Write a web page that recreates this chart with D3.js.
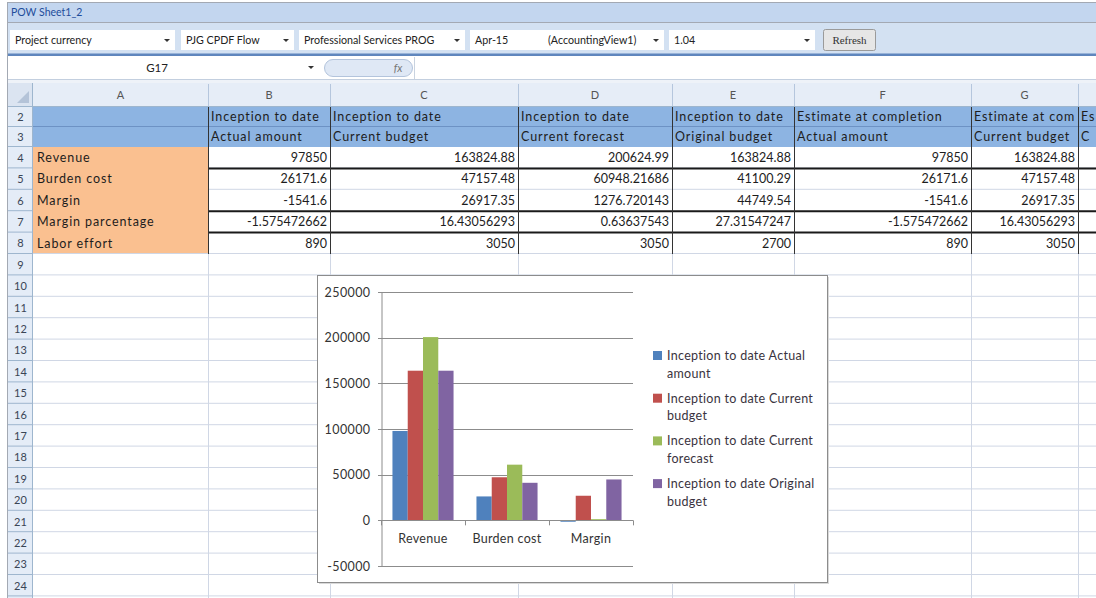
<!DOCTYPE html>
<html lang="en">
<head>
<meta charset="UTF-8">
<title>POW Sheet1_2</title>
<style>
  body { margin: 0; overflow: hidden; background: #fff; }
  svg { display: block; font-family: Lato, "Open Sans", sans-serif; }
</style>
</head>
<body>
<script src="https://cdnjs.cloudflare.com/ajax/libs/d3/7.8.2/d3.min.js"></script>
<script>
// ---- data ----
const sheetTitle = "POW Sheet1_2";
const toolbarLabels = ["Project currency", "PJG CPDF Flow", "Professional Services PROG", "Apr-15", "1.04"];
const periodView = "(AccountingView1)";
const cellRef = "G17";
const colLetters = ["A", "B", "C", "D", "E", "F", "G", "H"];
const headerTop = ["", "Inception to date", "Inception to date", "Inception to date", "Inception to date",
  "Estimate at completion", "Estimate at completion", "Estimate at completion"];
const headerSub = ["", "Actual amount", "Current budget", "Current forecast", "Original budget",
  "Actual amount", "Current budget", "Current forecast"];
const rowLabels = ["Revenue", "Burden cost", "Margin", "Margin parcentage", "Labor effort"];
const revenue = [97850, 163824.88, 200624.99, 163824.88, 97850, 163824.88];
const burdenCost = [26171.6, 47157.48, 60948.21686, 41100.29, 26171.6, 47157.48];
const margin = [-1541.6, 26917.35, 1276.720143, 44749.54, -1541.6, 26917.35];
const marginPct = [-1.575472662, 16.43056293, 0.63637543, 27.31547247, -1.575472662, 16.43056293];
const laborEffort = [890, 3050, 3050, 2700, 890, 3050];

const chartCategories = ["Revenue", "Burden cost", "Margin"];
const seriesNames = ["Inception to date Actual amount", "Inception to date Current budget",
  "Inception to date Current forecast", "Inception to date Original budget"];
const seriesColors = ["#4f81bd", "#c0504d", "#9bbb59", "#8064a2"];
const yTickValues = [-50000, 0, 50000, 100000, 150000, 200000, 250000];

// ---- layout ----
const W = 1096, H = 598;
const colEdges = [33, 208, 330, 518, 672, 794, 971, 1078, 1250];
const rowTop = r => r === 2 ? 107 : r === 3 ? 127 : 147 + (r - 4) * 21.4;
const rows = d3.range(2, 25);
const tableRows = [revenue, burdenCost, margin, marginPct, laborEffort];

const svg = d3.select("body").append("svg")
  .attr("width", W).attr("height", H);

// title bar + toolbar
svg.append("rect").attr("x", 7.5).attr("y", 2.5).attr("width", W).attr("height", 20)
  .attr("fill", "#c3d6ef").attr("stroke", "#a3a9b3");
svg.append("text").attr("x", 11).attr("y", 16).attr("font-size", 10.5)
  .attr("fill", "#1e4d9b").text(sheetTitle);
svg.append("rect").attr("x", 8).attr("y", 23).attr("width", W).attr("height", 31)
  .attr("fill", "#d3e1f2");
svg.append("rect").attr("x", 8).attr("y", 53.5).attr("width", W).attr("height", 2.5)
  .attr("fill", "#5f86bd");

const boxEdges = [[10, 175], [181, 294], [299, 465], [470, 664], [669, 815]];
const tb = svg.append("g").selectAll("g").data(toolbarLabels).join("g");
tb.append("rect")
  .attr("x", (d, i) => boxEdges[i][0]).attr("y", 30)
  .attr("width", (d, i) => boxEdges[i][1] - boxEdges[i][0]).attr("height", 20)
  .attr("fill", "#fff");
tb.append("text")
  .attr("x", (d, i) => boxEdges[i][0] + 5).attr("y", 44)
  .attr("font-size", 10.7).attr("fill", "#222").text(d => d);
tb.append("path")
  .attr("d", (d, i) => `M${boxEdges[i][1] - 11},39 h6 l-3,3 z`)
  .attr("fill", "#333");
svg.append("text").attr("x", 548).attr("y", 44).attr("font-size", 10.7)
  .attr("fill", "#222").text(periodView);
svg.append("rect").attr("x", 823.5).attr("y", 29.5).attr("width", 52).attr("height", 21).attr("rx", 2)
  .attr("fill", "#e6e6e6").attr("stroke", "#9a9a9a");
svg.append("text").attr("x", 849.5).attr("y", 44).attr("text-anchor", "middle")
  .attr("font-family", "Liberation Serif").attr("font-size", 11).attr("fill", "#333").text("Refresh");

// name box + formula bar
svg.append("rect").attr("x", 8).attr("y", 56).attr("width", W).attr("height", 23).attr("fill", "#fff");
svg.append("text").attr("x", 157).attr("y", 72).attr("text-anchor", "middle")
  .attr("font-size", 11.5).attr("fill", "#222").text(cellRef);
svg.append("path").attr("d", "M308,66 h6 l-3,3 z").attr("fill", "#333");
svg.append("rect").attr("x", 324.5).attr("y", 59.5).attr("width", 88).attr("height", 17).attr("rx", 8.5)
  .attr("fill", "#dfe8f5").attr("stroke", "#b3c4dc");
svg.append("text").attr("x", 398).attr("y", 72).attr("text-anchor", "middle")
  .attr("font-size", 11).attr("font-style", "italic").attr("fill", "#777").text("fx");
svg.append("line").attr("x1", 414.5).attr("x2", 414.5).attr("y1", 57).attr("y2", 79).attr("stroke", "#c9d3e0");
svg.append("rect").attr("x", 8).attr("y", 79).attr("width", W).attr("height", 4).attr("fill", "#eef2f8");
svg.append("line").attr("x1", 8).attr("x2", W).attr("y1", 79.5).attr("y2", 79.5).attr("stroke", "#c3cfdf");

// column headers (H is past the right edge, so only its border shows)
svg.append("rect").attr("x", 8).attr("y", 83).attr("width", W).attr("height", 24).attr("fill", "#e6edf7");
svg.append("rect").attr("x", 8).attr("y", 83).attr("width", 25).attr("height", 24).attr("fill", "#dbe4f1");
svg.append("path").attr("d", "M29,103 v-12 l-12,12 z").attr("fill", "#b4c3d8");
const colHead = svg.append("g").selectAll("g").data(colLetters).join("g");
colHead.append("line")
  .attr("x1", (d, i) => colEdges[i + 1] + 0.5).attr("x2", (d, i) => colEdges[i + 1] + 0.5)
  .attr("y1", 84).attr("y2", 107).attr("stroke", "#b5c6dd");
colHead.filter((d, i) => colEdges[i + 1] <= W).append("text")
  .attr("x", (d, i) => (colEdges[i] + colEdges[i + 1]) / 2).attr("y", 99)
  .attr("text-anchor", "middle").attr("font-size", 11).attr("fill", "#555").text(d => d);
svg.append("line").attr("x1", 8).attr("x2", W).attr("y1", 106.5).attr("y2", 106.5).attr("stroke", "#9eb6ce");

// row headers
svg.append("rect").attr("x", 8).attr("y", 107).attr("width", 25).attr("height", H - 107).attr("fill", "#e4ecf7");
const rowHead = svg.append("g").selectAll("g").data(rows).join("g");
rowHead.append("line")
  .attr("x1", 8).attr("x2", 33).attr("y1", r => rowTop(r + 1) - 0.5).attr("y2", r => rowTop(r + 1) - 0.5)
  .attr("stroke", "#9eb6ce");
rowHead.append("text")
  .attr("x", 20.5).attr("y", r => (rowTop(r) + rowTop(r + 1)) / 2 + 4)
  .attr("text-anchor", "middle").attr("font-size", 11).attr("fill", "#3a4555").text(r => r);
svg.append("line").attr("x1", 32.5).attr("x2", 32.5).attr("y1", 83).attr("y2", H).attr("stroke", "#9eb6ce");
svg.append("line").attr("x1", 7.5).attr("x2", 7.5).attr("y1", 2).attr("y2", H).attr("stroke", "#a3a9b3");

// cell fills
svg.append("rect").attr("x", 33).attr("y", rowTop(2)).attr("width", W).attr("height", rowTop(4) - rowTop(2))
  .attr("fill", "#8db4e2");
svg.append("rect").attr("x", 33).attr("y", rowTop(4)).attr("width", colEdges[1] - 33)
  .attr("height", rowTop(9) - rowTop(4)).attr("fill", "#fac090");

// gridlines
svg.append("g").selectAll("line").data(rows.filter(r => r >= 8)).join("line")
  .attr("x1", 33).attr("x2", W).attr("y1", r => rowTop(r + 1) - 0.5).attr("y2", r => rowTop(r + 1) - 0.5)
  .attr("stroke", "#d0d7e5");
svg.append("g").selectAll("line").data([4, 5]).join("line")
  .attr("x1", colEdges[1]).attr("x2", W).attr("y1", r => rowTop(r + 1) - 0.5).attr("y2", r => rowTop(r + 1) - 0.5)
  .attr("stroke", "#d0d7e5");
svg.append("g").selectAll("line").data(colEdges.slice(1, 8)).join("line")
  .attr("x1", d => d + 0.5).attr("x2", d => d + 0.5).attr("y1", rowTop(9)).attr("y2", H)
  .attr("stroke", "#d0d7e5");
svg.append("line").attr("x1", 33).attr("x2", W).attr("y1", rowTop(3) - 0.5).attr("y2", rowTop(3) - 0.5)
  .attr("stroke", "#6d92c4");

// dark borders of the table
svg.append("g").selectAll("line").data([4, 6, 7]).join("line")
  .attr("x1", colEdges[1]).attr("x2", W).attr("y1", r => rowTop(r + 1)).attr("y2", r => rowTop(r + 1))
  .attr("stroke", "#1a1a1a").attr("stroke-width", 2);
svg.append("g").selectAll("line").data(colEdges.slice(1, 8)).join("line")
  .attr("x1", d => d + 0.5).attr("x2", d => d + 0.5).attr("y1", rowTop(2)).attr("y2", rowTop(9))
  .attr("stroke", "#333");

// trim a cell text to the visible width of its cell, like excel cuts it at the border
function fitCell(sel, maxW) {
  sel.each(function (d, i) {
    const t = d3.select(this);
    const room = maxW(i);
    let s = d;
    while (s.length && this.getComputedTextLength() > room) {
      s = s.slice(0, -1);
      t.text(s);
    }
  });
}

// header texts rows 2-3
[headerTop, headerSub].forEach((arr, k) => {
  svg.append("g").selectAll("text").data(arr).join("text")
    .attr("x", (d, i) => colEdges[i] + 3).attr("y", rowTop(2 + k) + 14)
    .attr("font-size", 12.5).attr("letter-spacing", 0.9).attr("fill", "#1d1d1d").text(d => d)
    .call(fitCell, i => Math.min(colEdges[i + 1], W) - colEdges[i] - 3);
});

// body rows 4-8
svg.append("g").selectAll("text").data(rowLabels).join("text")
  .attr("x", 37).attr("y", (d, j) => rowTop(4 + j) + 15)
  .attr("font-size", 12.5).attr("letter-spacing", 0.9).attr("fill", "#1d1d1d").text(d => d);
tableRows.forEach((vals, j) => {
  svg.append("g").selectAll("text").data(vals).join("text")
    .attr("x", (d, i) => colEdges[i + 2] - 3).attr("y", rowTop(4 + j) + 15)
    .attr("text-anchor", "end").attr("font-size", 12.5).attr("fill", "#1d1d1d").text(d => String(d));
});

// ---- chart ----
const chart = svg.append("g");
chart.append("rect").attr("x", 319).attr("y", 277).attr("width", 510).attr("height", 307).attr("fill", "#d9d9d9");
chart.append("rect").attr("x", 317.5).attr("y", 275.5).attr("width", 510).attr("height", 307)
  .attr("fill", "#fff").attr("stroke", "#8c8c8c");

const y = d3.scaleLinear().domain([-50000, 250000]).range([566, 292]);
const x0 = d3.scaleBand().domain(chartCategories).range([381, 633]).paddingInner(1.5 / 5.5).paddingOuter(0.75 / 5.5);
const x1 = d3.scaleBand().domain(seriesNames).range([0, x0.bandwidth()]);

chart.append("g").selectAll("line").data(yTickValues).join("line")
  .attr("x1", 378).attr("x2", 633).attr("y1", d => Math.round(y(d)) + 0.5).attr("y2", d => Math.round(y(d)) + 0.5)
  .attr("stroke", "#8c8c8c");

const series = seriesNames.map((name, i) => ({
  name, color: seriesColors[i],
  values: [revenue[i], burdenCost[i], margin[i]]
}));
chart.append("g").selectAll("g").data(series).join("g")
  .attr("fill", d => d.color)
  .selectAll("rect").data(d => d.values.map((v, k) => ({ v, cat: chartCategories[k], name: d.name })))
  .join("rect")
  .attr("x", d => x0(d.cat) + x1(d.name)).attr("width", x1.bandwidth())
  .attr("y", d => y(Math.max(0, d.v))).attr("height", d => Math.abs(y(d.v) - y(0)));

const yAxis = chart.append("g").attr("transform", "translate(381.5,0)")
  .call(d3.axisLeft(y).tickValues(yTickValues).tickSize(0).tickPadding(11).tickFormat(d => String(d)));
yAxis.select(".domain").attr("stroke", "#8c8c8c");
yAxis.selectAll("text").attr("font-family", "Lato").attr("font-size", 12.5)
  .attr("letter-spacing", 0.4).attr("fill", "#333");

// x axis at zero
chart.append("line").attr("x1", 381).attr("x2", 633).attr("y1", Math.round(y(0)) + 0.5).attr("y2", Math.round(y(0)) + 0.5)
  .attr("stroke", "#8c8c8c");
const catEdges = chartCategories.map(c => x0(c) - x0.step() * x0.paddingOuter()).concat([633]);
chart.append("g").selectAll("line").data(catEdges).join("line")
  .attr("x1", d => Math.round(d) + 0.5).attr("x2", d => Math.round(d) + 0.5)
  .attr("y1", y(0)).attr("y2", y(0) + 5).attr("stroke", "#8c8c8c");
chart.append("g").selectAll("text").data(chartCategories).join("text")
  .attr("x", d => x0(d) + x0.bandwidth() / 2).attr("y", 543)
  .attr("text-anchor", "middle").attr("font-size", 12.5).attr("letter-spacing", 0.3)
  .attr("fill", "#333").text(d => d);

// legend
const legend = chart.append("g").selectAll("g").data(series).join("g")
  .attr("transform", (d, i) => `translate(653,${356 + i * 42.7})`);
legend.append("rect").attr("x", 0).attr("y", -5).attr("width", 9).attr("height", 9).attr("fill", d => d.color);
legend.append("text").attr("x", 14).attr("y", 4).attr("font-size", 12.5).attr("letter-spacing", 0.3)
  .attr("fill", "#3a3340")
  .each(function (d) {
    const words = d.name.split(" ");
    const t = d3.select(this);
    t.append("tspan").attr("x", 14).text(words.slice(0, 4).join(" "));
    t.append("tspan").attr("x", 14).attr("dy", 17.5).text(words.slice(4).join(" "));
  });
</script>
</body>
</html>
